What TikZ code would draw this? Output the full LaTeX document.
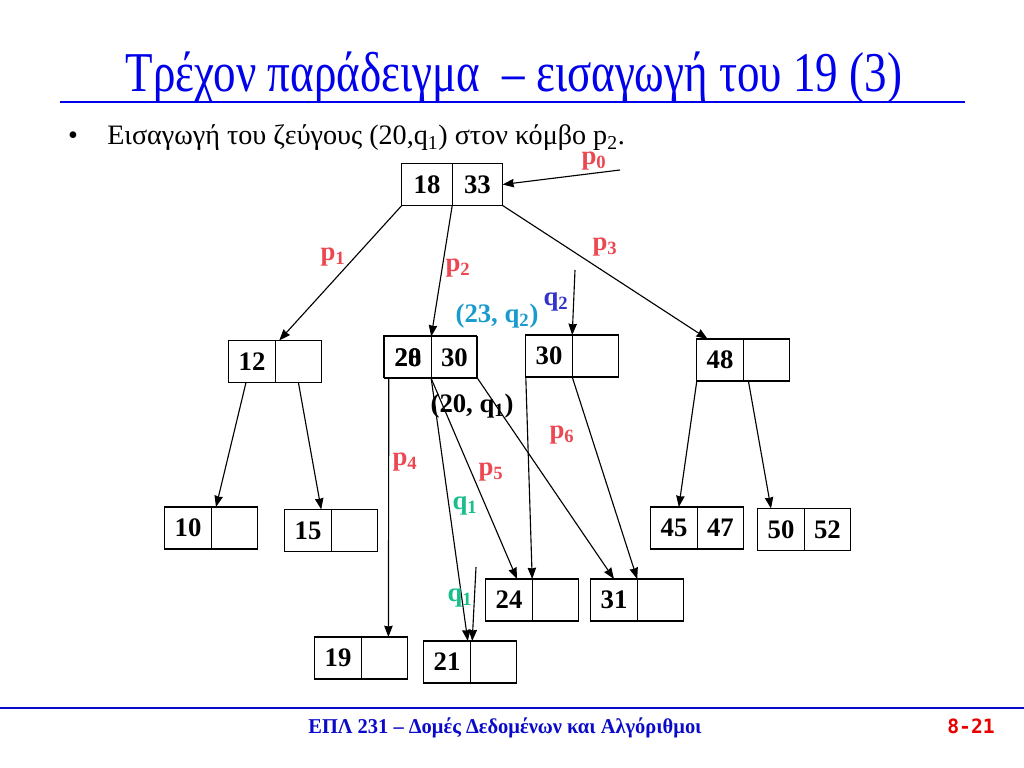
\documentclass[tikz,border=0pt]{standalone}
\usepackage{fontspec}
\setmainfont{Liberation Serif}
\newfontfamily\titlefont[FakeStretch=0.8]{Liberation Serif}
\newfontfamily\footfont[FakeStretch=0.97]{Liberation Serif}
\newfontfamily\pagefont{DejaVu Sans Mono}
\usepackage[dvipsnames]{xcolor}
\usepackage{tikz}
\usetikzlibrary{arrows.meta,positioning}

\definecolor{titleblue}{RGB}{0,0,235}
\definecolor{footblue}{RGB}{10,10,200}
\definecolor{ptrred}{RGB}{236,72,82}
\definecolor{qblue}{RGB}{51,51,204}
\definecolor{paircyan}{RGB}{25,155,205}
\definecolor{qgreen}{RGB}{25,190,140}
\definecolor{pagered}{RGB}{230,0,0}

\begin{document}
\begin{tikzpicture}[
    x=0.025cm, y=-0.025cm,
    cell/.style={draw, line width=0.9pt, minimum width=1.16cm, minimum height=1.05cm,
                 inner sep=0pt, outer sep=0pt, font=\bfseries\fontsize{19}{19}\selectfont},
    key/.style={inner sep=0pt, font=\bfseries\fontsize{19}{19}\selectfont},
    lbl/.style={inner sep=0pt, font=\bfseries\fontsize{19}{19}\selectfont},
    ptr/.style={-{Stealth[length=8pt,width=6pt,inset=0.5pt]}, line width=0.8pt}
]
\useasboundingbox (0,0) rectangle (1024,768);

% title and text
\node[anchor=base, inner sep=0pt, text=titleblue, font=\titlefont\fontsize{40}{48}\selectfont]
    (title) at (514,92) {Τρέχον παράδειγμα~ – εισαγωγή του 19 (3)};
\draw[titleblue, line width=2.1pt] (60,102) -- (965,102);
\node[anchor=base, inner sep=0pt, font=\fontsize{20}{24}\selectfont] (bullet) at (73,145) {•};
\node[anchor=base west, inner sep=0pt, font=\fontsize{20}{24}\selectfont] (intro) at (107,145)
    {Εισαγωγή του ζεύγους (20,q\textsubscript{1}) στον κόμβο p\textsubscript{2}.};

% nodes of the tree
\node[cell, minimum width=1.26cm] (roota) at (427,184.5) {18};
\node[cell, minimum width=1.26cm, right=0pt of roota] (rootb) {33};

\node[cell] (n12a) at (252,361.5) {12};
\node[cell, right=0pt of n12a] (n12b) {};

\node[draw, line width=0.9pt, minimum width=2.32cm, minimum height=1.05cm, inner sep=0pt, outer sep=0pt]
    (np2old) at (430,356.5) {};
\node[cell] (np2a) at (408,357.5) {20};
\node[key] (np2x) at (np2a) {28};
\node[cell, right=0pt of np2a] (np2b) {30};

\node[cell] (q2a) at (549,356) {30};
\node[cell, right=0pt of q2a] (q2b) {};

\node[cell] (n48a) at (720,360) {48};
\node[cell, right=0pt of n48a] (n48b) {};

\node[cell] (n10a) at (188,528) {10};
\node[cell, right=0pt of n10a] (n10b) {};

\node[cell] (n15a) at (308,530.5) {15};
\node[cell, right=0pt of n15a] (n15b) {};

\node[cell] (n45a) at (674,528) {45};
\node[cell, right=0pt of n45a] (n45b) {47};

\node[cell] (n50a) at (781,529.5) {50};
\node[cell, right=0pt of n50a] (n50b) {52};

\node[cell] (n24a) at (509,600) {24};
\node[cell, right=0pt of n24a] (n24b) {};

\node[cell] (n31a) at (614,600) {31};
\node[cell, right=0pt of n31a] (n31b) {};

\node[cell] (n19a) at (338,658) {19};
\node[cell, right=0pt of n19a] (n19b) {};

\node[cell] (n21a) at (447,662) {21};
\node[cell, right=0pt of n21a] (n21b) {};

% free ends
\coordinate (p0tail) at (620,170);
\coordinate (q2tail) at (575,270);
\coordinate (q1tail) at (476,567);

% pointers
\draw[ptr] (p0tail) -- (rootb.east);
\draw[ptr] (roota.south west) -- ([xshift=0.1cm]n12a.north east);
\draw[ptr] (roota.south east) -- (np2a.north east);
\draw[ptr] (rootb.south east) -- ([xshift=0.27cm]n48a.north west);
\draw[ptr] (q2tail) -- (q2a.north east);
\draw[ptr] ([xshift=-0.15cm]n12a.south) -- ([xshift=0.12cm]n10a.north east);
\draw[ptr] (n12b.south) -- ([xshift=-0.25cm]n15a.north east);
\draw[ptr] (n48a.south west) -- ([xshift=0.12cm]n45a.north);
\draw[ptr] ([xshift=0.13cm]n48b.south west) -- ([xshift=-0.25cm]n50a.north);
\draw[ptr] ([xshift=0.1cm]np2a.south west) -- ([xshift=0.1cm]n19b.north);
\draw[ptr] (np2a.south east) -- ([xshift=-0.06cm]n21a.north east);
\draw[ptr] (np2a.south east) -- ([xshift=-0.38cm]n24a.north east);
\draw[ptr] (np2b.south east) -- (n31a.north);
\draw[ptr] (q2a.south west) -- (n24a.north east);
\draw[ptr] (q2a.south east) -- (n31a.north east);
\draw[ptr] (q1tail) -- ([xshift=0.05cm]n21a.north east);

% labels
\node[lbl, text=ptrred] (lp0) at (594,161) {p\textsubscript{0}};
\node[lbl, text=ptrred] (lp1) at (333,257) {p\textsubscript{1}};
\node[lbl, text=ptrred] (lp2) at (458,268) {p\textsubscript{2}};
\node[lbl, text=ptrred] (lp3) at (605,247) {p\textsubscript{3}};
\node[lbl, text=qblue] (lq2) at (556,302) {q\textsubscript{2}};
\node[lbl, text=paircyan] (lpair2) at (497,316) {(23, q\textsubscript{2})};
\node[lbl] (lpair1) at (472,406) {(20, q\textsubscript{1})};
\node[lbl, text=ptrred] (lp6) at (562,435) {p\textsubscript{6}};
\node[lbl, text=ptrred] (lp4) at (405,462) {p\textsubscript{4}};
\node[lbl, text=ptrred] (lp5) at (491,472) {p\textsubscript{5}};
\node[lbl, text=qgreen] (lq1a) at (465,506) {q\textsubscript{1}};
\node[lbl, text=qgreen] (lq1b) at (460,598) {q\textsubscript{1}};

% footer
\draw[footblue, line width=1.2pt] (0,708) -- (1024,708);
\node[anchor=base, inner sep=0pt, text=footblue, font=\footfont\bfseries\fontsize{15}{17}\selectfont]
    (foot) at (505,733) {ΕΠΛ 231 – Δομές Δεδομένων και Αλγόριθμοι};
\node[anchor=base east, inner sep=0pt, text=pagered, font=\pagefont\bfseries\fontsize{14}{16}\selectfont]
    (page) at (995,733) {8-21};
\end{tikzpicture}
\end{document}
